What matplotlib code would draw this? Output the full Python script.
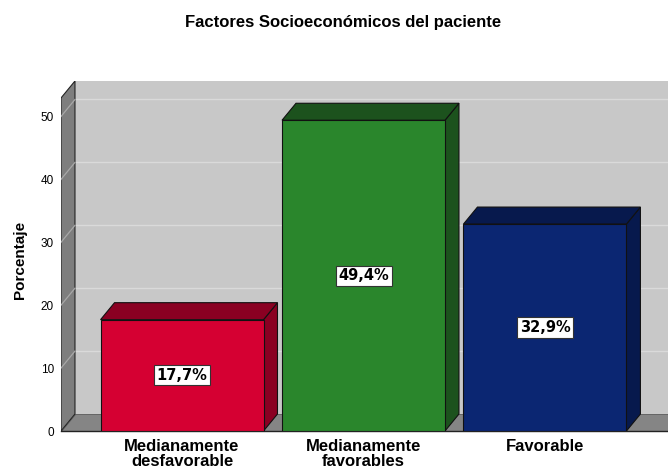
import matplotlib
matplotlib.use("Agg")
import matplotlib.pyplot as plt
from matplotlib.patches import Polygon

categories = ["Medianamente\ndesfavorable", "Medianamente\nfavorables", "Favorable"]
values = [17.7, 49.4, 32.9]
value_labels = ["17,7%", "49,4%", "32,9%"]
yticks = [0, 10, 20, 30, 40, 50]
title = "Factores Socioeconómicos del paciente"
ylabel = "Porcentaje"

front_colors = ["#D50032", "#2A862C", "#0B2672"]
dark_colors = ["#8A0022", "#1C521D", "#07194D"]

plt.rcParams['font.family'] = ['Liberation Sans', 'DejaVu Sans']

W, H = 668, 469
fig = plt.figure(figsize=(W / 100, H / 100), dpi=100)
ax = fig.add_axes([61 / W, (H - 431) / H, 607 / W, 350 / H])

x0, x1 = -0.667, 2.678
ymax = 55.64
dx, dy = 0.077, 2.70
bw = 0.898

ax.set_xlim(x0, x1)
ax.set_ylim(0, ymax)
for s in ax.spines.values():
    s.set_visible(False)

wall = "#C8C8C8"
side_gray = "#7E7E7E"
# back wall
ax.add_patch(Polygon([(x0 + dx, dy), (x1, dy), (x1, ymax), (x0 + dx, ymax)],
                     closed=True, facecolor=wall, edgecolor="none", zorder=0))
# gridlines on back wall and left wall
for v in yticks[1:]:
    ax.plot([x0 + dx, x1], [v + dy, v + dy], color="#DADADA", lw=1.0, zorder=1)
# floor
ax.add_patch(Polygon([(x0, 0), (x1, 0), (x1, dy), (x0 + dx, dy)],
                     closed=True, facecolor="#858585", edgecolor="#555555", lw=0.6, zorder=2))
# left wall
ax.add_patch(Polygon([(x0, 0), (x0 + dx, dy), (x0 + dx, ymax), (x0, ymax - dy)],
                     closed=True, facecolor=side_gray, edgecolor="#222222", lw=0.8, zorder=2))
for v in yticks[1:]:
    ax.plot([x0, x0 + dx], [v, v + dy], color="#A8A8A8", lw=0.9, zorder=3)
ax.plot([x0, x1], [0, 0], color="#222222", lw=1.0, zorder=3, clip_on=False)

xs = list(range(len(values)))
bars = ax.bar(xs, values, width=bw, color=front_colors, edgecolor="#111111",
              linewidth=0.8, zorder=6)
for x, v, dc in zip(xs, values, dark_colors):
    xl, xr = x - bw / 2, x + bw / 2
    ax.add_patch(Polygon([(xr, 0), (xr + dx, dy), (xr + dx, v + dy), (xr, v)],
                         closed=True, facecolor=dc, edgecolor="#111111", lw=0.8, zorder=5))
    ax.add_patch(Polygon([(xl, v), (xr, v), (xr + dx, v + dy), (xl + dx, v + dy)],
                         closed=True, facecolor=dc, edgecolor="#111111", lw=0.8, zorder=5))

for x, v, lab in zip(xs, values, value_labels):
    ax.text(x, v / 2, lab, ha="center", va="center", fontsize=10.5, fontweight="bold",
            family=["DejaVu Sans"], color="black", zorder=8,
            bbox=dict(boxstyle="square,pad=0.18", facecolor="white", edgecolor="#333333", lw=0.8))

ax.set_yticks(yticks)
ax.set_yticklabels([str(t) for t in yticks], fontsize=8.5)
ax.tick_params(axis="y", length=0, pad=5)
ax.set_xticks(xs)
ax.set_xticklabels(categories, fontsize=12, fontweight="bold", linespacing=0.95)
ax.tick_params(axis="x", length=0, pad=6)

fig.text(20 / W, 1 - 260 / H, ylabel, rotation=90, ha="center", va="center",
         fontsize=11, fontweight="bold")
fig.text(343 / W, 1 - 23 / H, title, ha="center", va="center", fontsize=12, fontweight="bold")

fig.savefig("out.png", dpi=100)
